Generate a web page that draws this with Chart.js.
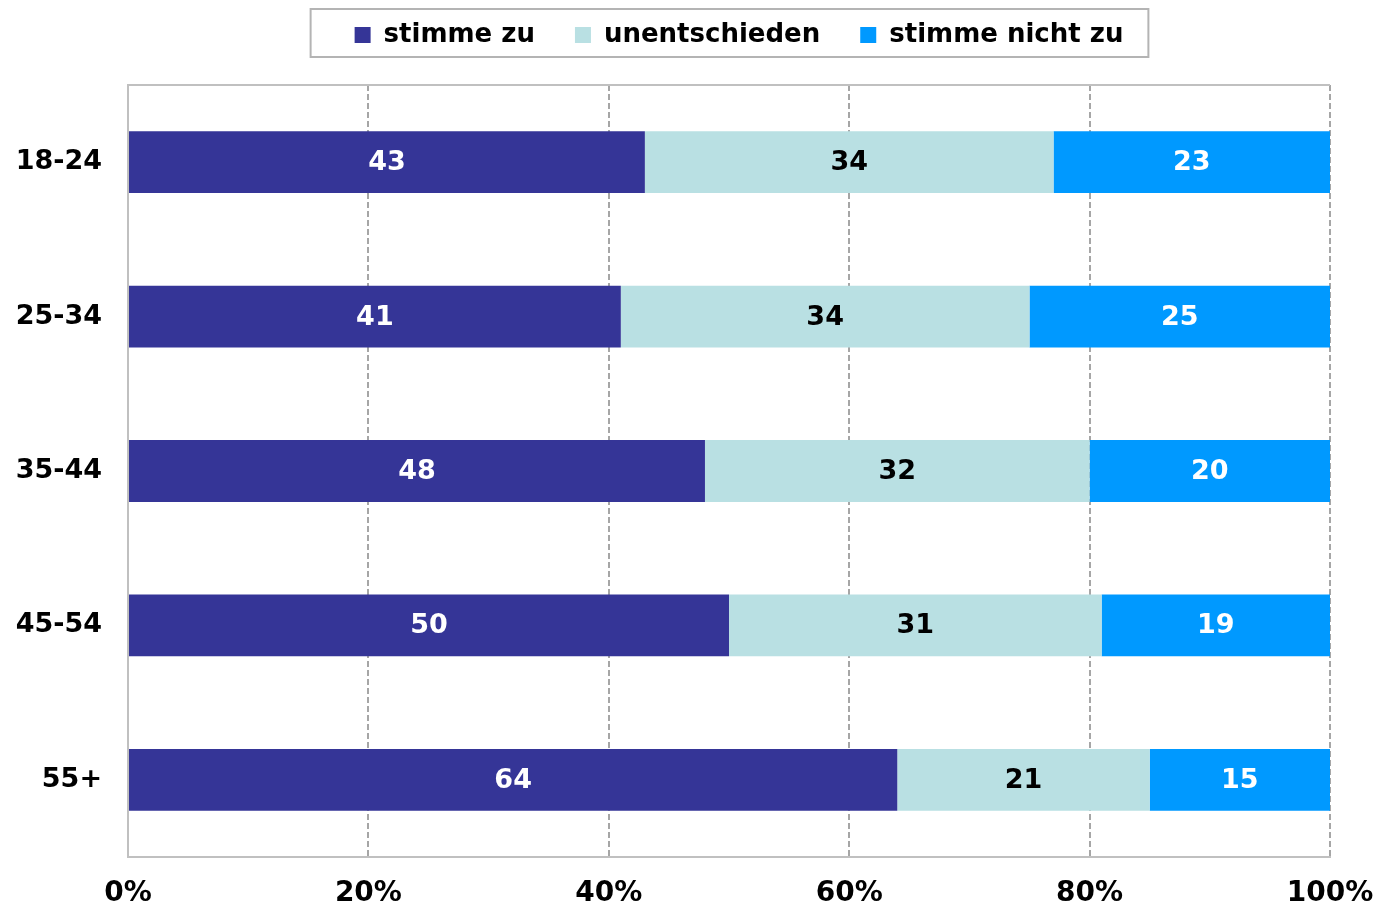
<!DOCTYPE html>
<html>
<head>
<meta charset="utf-8">
<script src="https://cdn.jsdelivr.net/npm/chart.js@4/dist/chart.umd.min.js"></script>
<style>
html,body{margin:0;padding:0;background:#fff;}
#wrap{width:1378px;height:907px;}
</style>
</head>
<body>
<div id="wrap"><canvas id="c" width="1378" height="907"></canvas></div>
<script>
const categories = ['18-24', '25-34', '35-44', '45-54', '55+'];
const seriesNames = ['stimme zu', 'unentschieden', 'stimme nicht zu'];
const agree = [43, 41, 48, 50, 64];
const undecided = [34, 34, 32, 31, 21];
const disagree = [23, 25, 20, 19, 15];
const xTicks = [0, 20, 40, 60, 80, 100];

const FONT = "'DejaVu Sans', Verdana, sans-serif";

const labelPlugin = {
  id: 'barLabels',
  afterDatasetsDraw(chart) {
    const ctx = chart.ctx;
    ctx.save();
    ctx.font = 'bold 27px ' + FONT;
    ctx.textAlign = 'center';
    ctx.textBaseline = 'middle';
    chart.data.datasets.forEach((ds, di) => {
      const meta = chart.getDatasetMeta(di);
      meta.data.forEach((el, i) => {
        const p = el.getCenterPoint();
        ctx.fillStyle = ds.labelColor;
        ctx.fillText(String(ds.data[i]), p.x, p.y + 1);
      });
    });
    ctx.restore();
  }
};

const LEGEND_HEIGHT = 85;
const LEGEND_SHIFT_Y = -18;
const LEGEND_SHIFT_X = 42;

const framePlugin = {
  id: 'frame',
  beforeLayout(chart) {
    const lg = chart.legend;
    if (lg && !lg._patched) {
      const origFit = lg.fit;
      lg.fit = function () {
        origFit.apply(this, arguments);
        this.height = LEGEND_HEIGHT;
      };
      lg._patched = true;
    }
  },
  afterLayout(chart) {
    const lg = chart.legend;
    if (lg) {
      lg.top += LEGEND_SHIFT_Y;
      lg.bottom += LEGEND_SHIFT_Y;
      lg.left += LEGEND_SHIFT_X;
      lg.right += LEGEND_SHIFT_X;
    }
  },
  afterDraw(chart) {
    const ctx = chart.ctx;
    const a = chart.chartArea;
    ctx.save();
    ctx.strokeStyle = '#c0c0c0';
    ctx.lineWidth = 2;
    ctx.beginPath();
    ctx.moveTo(a.left, a.top);
    ctx.lineTo(a.right, a.top);
    ctx.stroke();
    const lg = chart.legend;
    if (lg && lg.legendHitBoxes && lg.legendHitBoxes.length) {
      const hb = lg.legendHitBoxes;
      const x0 = hb[0].left - 44;
      const last = hb[hb.length - 1];
      const x1 = last.left + last.width + 25;
      ctx.strokeStyle = '#b4b4b4';
      ctx.lineWidth = 2;
      ctx.strokeRect(x0, 9, x1 - x0, 48);
    }
    ctx.restore();
  }
};

new Chart(document.getElementById('c'), {
  type: 'bar',
  data: {
    labels: categories,
    datasets: [
      { label: seriesNames[0], data: agree, backgroundColor: '#353597', labelColor: '#ffffff' },
      { label: seriesNames[1], data: undecided, backgroundColor: '#b9e0e3', labelColor: '#000000' },
      { label: seriesNames[2], data: disagree, backgroundColor: '#0099ff', labelColor: '#ffffff' }
    ]
  },
  options: {
    indexAxis: 'y',
    responsive: false,
    animation: false,
    devicePixelRatio: 1,
    barPercentage: 0.8,
    categoryPercentage: 0.5,
    layout: { padding: { left: 16, right: 0, top: 0, bottom: 0 } },
    scales: {
      x: {
        stacked: true,
        min: 0,
        max: 100,
        afterBuildTicks(scale) { scale.ticks = xTicks.map(v => ({ value: v })); },
        afterFit(scale) { scale.height = 50; scale.paddingRight = 48; scale.paddingLeft = 0; },
        ticks: {
          callback: v => v + '%',
          font: { family: FONT, size: 28, weight: 'bold' },
          color: '#000',
          padding: 20,
          maxRotation: 0
        },
        grid: { color: '#a6a6a6', lineWidth: 2, drawTicks: false },
        border: { display: true, color: '#c0c0c0', width: 2, dash: [6, 3] }
      },
      y: {
        stacked: true,
        afterFit(scale) { scale.width = 112; },
        ticks: {
          font: { family: FONT, size: 27, weight: 'bold' },
          color: '#000',
          padding: 26
        },
        grid: { display: false, drawTicks: false },
        border: { display: true, color: '#c0c0c0', width: 2 }
      }
    },
    plugins: {
      legend: {
        position: 'top',
        labels: {
          font: { family: FONT, size: 26, weight: 'bold' },
          color: '#000',
          boxWidth: 16,
          boxHeight: 16,
          padding: 40
        }
      },
      tooltip: { enabled: false }
    }
  },
  plugins: [labelPlugin, framePlugin]
});
</script>
</body>
</html>
